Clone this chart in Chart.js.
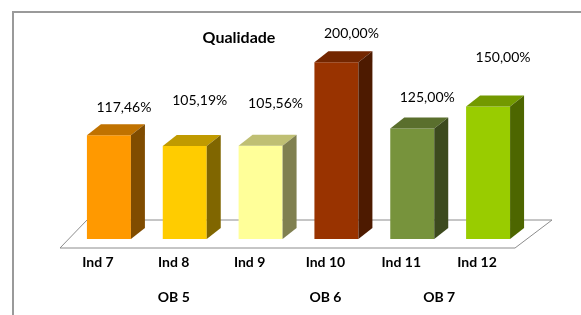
<!doctype html>
<html lang="pt">
<head>
<meta charset="utf-8">
<title>Qualidade</title>
<script src="https://cdn.jsdelivr.net/npm/chart.js@4.4.0/dist/chart.umd.min.js"></script>
<style>
  html, body { margin: 0; padding: 0; background: #fff; }
  #chart { display: block; }
</style>
</head>
<body>
<canvas id="chart" width="581" height="315"></canvas>
<script>
// dados
var titulo = 'Qualidade';
var indicadores = ['Ind 7', 'Ind 8', 'Ind 9', 'Ind 10', 'Ind 11', 'Ind 12'];
var valores = [117.46, 105.19, 105.56, 200.00, 125.00, 150.00];
var objetivos = ['OB 5', 'OB 6', 'OB 7'];
var objetivosSpan = [3, 1, 2];   // quantos indicadores em cada OB

// cores: frente, topo, lado
var corFrente = ['#FF9900', '#FFCC00', '#FFFF99', '#993300', '#77933C', '#99CC00'];
var corTopo   = ['#C07200', '#C09A00', '#BFBF73', '#732600', '#5A6F2D', '#739900'];
var corLado   = ['#804C00', '#806600', '#808050', '#4D1A00', '#3C4A1E', '#4D6600'];
// deslocamento vertical de cada rótulo (o Excel não os alinha igual)
var subirRotulo = [28, 46, 42, 29, 31, 49];

var DX = 14, DY = 11;
var fonte = 'Lato, "Open Sans", sans-serif';

function fmt(v) {
  return v.toFixed(2).replace('.', ',') + '%';
}

var efeito3d = {
  id: 'efeito3d',
  beforeDatasetsDraw: function (chart) {
    var ctx = chart.ctx, a = chart.chartArea;
    // moldura
    ctx.save();
    ctx.strokeStyle = '#9a9a9a';
    ctx.lineWidth = 2;
    ctx.beginPath();
    ctx.moveTo(13, 315);
    ctx.lineTo(13, 12);
    ctx.lineTo(581, 12);
    ctx.stroke();
    // piso
    ctx.fillStyle = '#ffffff';
    ctx.strokeStyle = '#8c8c8c';
    ctx.lineWidth = 1;
    ctx.beginPath();
    ctx.moveTo(a.left - 11, a.bottom + 9);
    ctx.lineTo(a.right - 11, a.bottom + 9);
    ctx.lineTo(a.right + 26, a.bottom - 19);
    ctx.lineTo(a.left + 16, a.bottom - 19);
    ctx.closePath();
    ctx.fill();
    ctx.stroke();
    ctx.restore();
  },
  afterDatasetsDraw: function (chart) {
    var ctx = chart.ctx;
    var meta = chart.getDatasetMeta(0);
    ctx.save();
    meta.data.forEach(function (bar, i) {
      var w = bar.width, x0 = bar.x - w / 2, x1 = bar.x + w / 2;
      var top = bar.y, base = bar.base;
      // topo
      ctx.fillStyle = corTopo[i];
      ctx.beginPath();
      ctx.moveTo(x0, top);
      ctx.lineTo(x1, top);
      ctx.lineTo(x1 + DX, top - DY);
      ctx.lineTo(x0 + DX, top - DY);
      ctx.closePath();
      ctx.fill();
      // lado
      ctx.fillStyle = corLado[i];
      ctx.beginPath();
      ctx.moveTo(x1, top);
      ctx.lineTo(x1 + DX, top - DY);
      ctx.lineTo(x1 + DX, base - DY);
      ctx.lineTo(x1, base);
      ctx.closePath();
      ctx.fill();
      // rótulo de valor
      ctx.fillStyle = '#000';
      ctx.font = '14px ' + fonte;
      ctx.textAlign = 'center';
      ctx.textBaseline = 'middle';
      ctx.fillText(fmt(valores[i]), bar.x + 15, top - subirRotulo[i]);
    });
    ctx.restore();
  },
  afterDraw: function (chart) {
    var ctx = chart.ctx;
    var xs = chart.scales.x;
    ctx.save();
    ctx.fillStyle = '#000';
    ctx.textAlign = 'center';
    ctx.textBaseline = 'middle';
    // título
    ctx.font = 'bold 16px ' + fonte;
    ctx.fillText(titulo, 239, 38);
    // categorias
    ctx.font = 'bold 14px ' + fonte;
    indicadores.forEach(function (lab, i) {
      ctx.fillText(lab, xs.getPixelForValue(i) - 11, 262);
    });
    // grupos OB
    var ini = 0;
    objetivos.forEach(function (ob, g) {
      var fim = ini + objetivosSpan[g] - 1;
      var cx = (xs.getPixelForValue(ini) + xs.getPixelForValue(fim)) / 2 - 11;
      ctx.fillText(ob, cx, 297);
      ini = fim + 1;
    });
    ctx.restore();
  }
};

new Chart(document.getElementById('chart').getContext('2d'), {
  type: 'bar',
  data: {
    labels: indicadores,
    datasets: [{
      data: valores,
      backgroundColor: corFrente,
      borderWidth: 0,
      barPercentage: 0.58,
      categoryPercentage: 1
    }]
  },
  options: {
    responsive: false,
    animation: false,
    layout: { padding: { left: 71, right: 55, top: 18, bottom: 76 } },
    plugins: {
      legend: { display: false },
      tooltip: { enabled: false },
      title: { display: false }
    },
    scales: {
      x: { display: false },
      y: { display: false, min: 0, max: 250 }
    }
  },
  plugins: [efeito3d]
});
</script>
</body>
</html>
